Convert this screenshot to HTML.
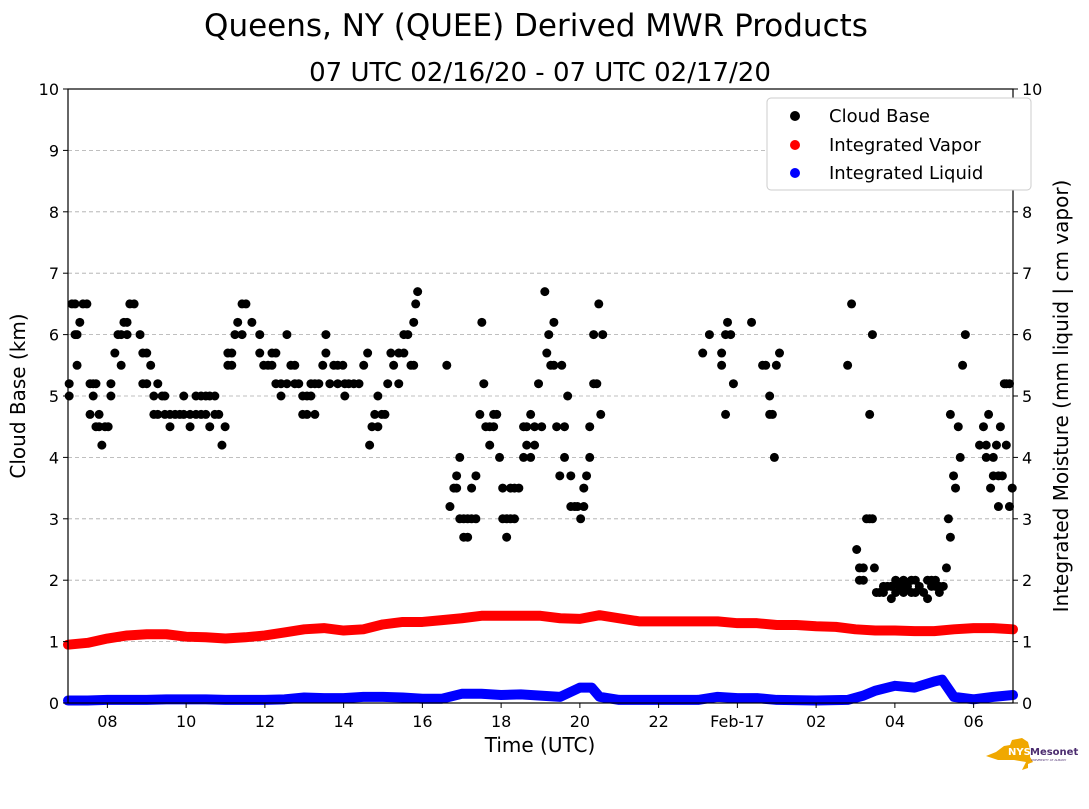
<!DOCTYPE html>
<html><head><meta charset="utf-8"><style>
body{margin:0;background:#fff;font-family:"Liberation Sans","DejaVu Sans",sans-serif;}
svg text{font-family:"DejaVu Sans","Liberation Sans",sans-serif;}
</style></head><body>
<svg id="chart" width="1089" height="804" xmlns="http://www.w3.org/2000/svg">
<text x="536" y="36" font-size="31" text-anchor="middle">Queens, NY (QUEE) Derived MWR Products</text>
<text x="540" y="81" font-size="26" text-anchor="middle">07 UTC 02/16/20 - 07 UTC 02/17/20</text>
<g id="grid"></g><g id="series"></g><g id="axes"></g>
<text transform="translate(25,396) rotate(-90)" font-size="20" text-anchor="middle">Cloud Base (km)</text>
<text transform="translate(1068,396) rotate(-90)" font-size="20" text-anchor="middle">Integrated Moisture (mm liquid | cm vapor)</text>
<text x="540" y="752" font-size="20" text-anchor="middle">Time (UTC)</text>
<g>
<rect x="767" y="98" width="264" height="92" rx="4" fill="#fff" stroke="#ccc"/>
<circle cx="795" cy="116" r="5" fill="#000"/><text x="829" y="122" font-size="18">Cloud Base</text>
<circle cx="795" cy="145" r="5" fill="red"/><text x="829" y="151" font-size="18">Integrated Vapor</text>
<circle cx="795" cy="173" r="5" fill="blue"/><text x="829" y="179" font-size="18">Integrated Liquid</text>
</g>
<g>
<path d="M986 756 L996 752 L1004 746 L1010 745 L1012 740 L1022 738 L1028 742 L1030 750 L1030 757 L1033 762 L1028 764 L1028 768 L1022 770 L1026 762 L1014 760 L998 760 Z" fill="#f0a800"/>
<text x="1008" y="755" font-size="10" fill="#fff" font-weight="bold">NYS</text>
<text x="1030" y="755" font-size="10" fill="#4b2c6f" font-weight="bold">Mesonet</text>
<text x="1031" y="761" font-size="3" fill="#4b2c6f">UNIVERSITY AT ALBANY</text>
</g>
</svg>
<script>
const cloudHours=[0.03,0.03,0.1,0.18,0.18,0.23,0.23,0.3,0.38,0.48,0.56,0.56,0.64,0.64,0.71,0.71,0.79,0.79,0.86,0.94,1.02,
1.09,1.09,1.19,1.27,1.35,1.35,1.42,1.5,1.5,1.57,1.68,1.83,1.9,1.9,2.0,2.0,
2.1,2.18,2.18,2.28,2.28,2.39,2.46,2.46,2.59,2.59,2.72,2.84,2.94,2.94,
3.1,3.1,3.25,3.25,3.38,3.38,3.5,3.5,3.6,3.6,3.73,3.73,3.83,3.91,3.99,
4.06,4.06,4.16,4.16,4.24,4.31,4.42,4.42,4.52,4.67,4.87,4.87,4.97,
5.08,5.18,5.18,5.28,5.28,5.41,5.41,5.56,5.56,5.66,5.76,5.76,5.86,5.96,5.96,
6.07,6.07,6.17,6.17,6.27,6.27,6.37,6.47,6.55,6.55,6.65,6.75,6.85,6.85,6.98,
7.03,7.03,7.13,7.26,7.39,7.51,7.61,7.66,7.72,7.79,7.87,7.87,7.97,
8.05,8.12,8.2,8.27,8.4,8.4,8.53,8.53,8.63,8.71,8.78,8.78,8.83,8.88,
9.62,9.7,9.8,9.87,9.87,9.95,9.95,10.05,10.05,10.15,10.15,10.25,10.25,10.36,10.36,10.46,10.51,10.56,10.61,10.71,10.71,10.81,10.81,10.89,10.96,11.04,11.04,11.14,11.14,11.24,11.24,11.34,11.34,11.45,
11.57,11.57,11.65,11.65,11.75,11.75,11.85,11.85,11.95,12.03,12.11,12.16,12.21,12.26,12.34,12.34,12.41,12.49,12.54,12.61,12.61,12.69,12.77,12.77,12.87,12.94,13.02,13.1,13.1,13.17,13.25,13.25,13.35,13.35,13.43,13.48,13.53,13.58,
16.12,16.29,16.6,16.6,16.7,16.7,16.75,16.83,16.9,17.36,17.64,17.72,17.82,17.82,17.89,17.94,17.99,18.07,
19.8,19.9,20.03,20.1,20.1,20.2,20.2,20.28,20.36,20.36,20.43,20.43,20.48,20.53,20.61,20.71,20.71,20.81,20.91,20.91,21.02,21.02,21.12,
21.22,21.22,21.32,21.42,21.42,21.52,21.52,21.62,21.73,21.83,21.83,21.93,21.93,22.03,22.03,22.13,22.13,22.23,22.31,22.36,22.41,22.41,22.49,22.54,22.61,22.66,22.72,22.79,
23.15,23.25,23.32,23.32,23.38,23.43,23.5,23.5,23.58,23.63,23.63,23.68,23.73,23.78,23.83,23.83,23.91,23.91,23.98];
const cloudKm=[5.2,5.0,6.5,6.0,6.5,6.0,5.5,6.2,6.5,6.5,5.2,4.7,5.0,5.2,4.5,5.2,4.7,4.5,4.2,4.5,4.5,
5.0,5.2,5.7,6.0,5.5,6.0,6.2,6.2,6.0,6.5,6.5,6.0,5.7,5.2,5.2,5.7,
5.5,5.0,4.7,5.2,4.7,5.0,4.7,5.0,4.5,4.7,4.7,4.7,5.0,4.7,
4.5,4.7,5.0,4.7,5.0,4.7,4.7,5.0,4.5,5.0,5.0,4.7,4.7,4.2,4.5,
5.7,5.5,5.7,5.5,6.0,6.2,6.5,6.0,6.5,6.2,6.0,5.7,5.5,
5.5,5.7,5.5,5.2,5.7,5.2,5.0,6.0,5.2,5.5,5.5,5.2,5.2,5.0,4.7,
4.7,5.0,5.2,5.0,4.7,5.2,5.2,5.5,6.0,5.7,5.2,5.5,5.5,5.2,5.5,
5.0,5.2,5.2,5.2,5.2,5.5,5.7,4.2,4.5,4.7,5.0,4.5,4.7,
4.7,5.2,5.7,5.5,5.7,5.2,6.0,5.7,6.0,5.5,6.2,5.5,6.5,6.7,
5.5,3.2,3.5,3.7,3.5,4.0,3.0,3.0,2.7,3.0,2.7,3.5,3.0,3.0,3.7,4.7,6.2,5.2,4.5,4.5,4.2,4.7,4.5,4.7,4.0,3.5,3.0,2.7,3.0,3.5,3.0,3.0,3.5,3.5,
4.0,4.5,4.5,4.2,4.7,4.0,4.2,4.5,5.2,4.5,6.7,5.7,6.0,5.5,6.2,5.5,4.5,3.7,5.5,4.5,4.0,5.0,3.7,3.2,3.2,3.2,3.0,3.2,3.5,3.7,4.0,4.5,5.2,6.0,5.2,6.5,4.7,6.0,
5.7,6.0,5.7,5.5,6.0,4.7,6.2,6.0,5.2,6.2,5.5,5.5,5.0,4.7,4.7,4.0,5.5,5.7,
5.5,6.5,2.5,2.2,2.0,2.2,2.0,3.0,3.0,4.7,6.0,3.0,2.2,1.8,1.8,1.9,1.8,1.9,1.9,1.7,2.0,1.8,1.9,
2.0,1.8,1.9,2.0,1.8,2.0,1.8,1.9,1.8,2.0,1.7,2.0,1.9,1.9,2.0,1.8,1.9,1.9,2.2,3.0,2.7,4.7,3.7,3.5,4.5,4.0,5.5,6.0,
4.2,4.5,4.2,4.0,4.7,3.5,3.7,4.0,4.2,3.7,3.2,4.5,3.7,5.2,4.2,5.2,3.2,5.2,3.5];
const vaporHours=[0,0.5,1,1.5,2,2.5,3,3.5,4,4.5,5,5.5,6,6.5,7,7.5,8,8.5,9,9.5,10,10.5,11,11.5,12,12.5,13,13.5,14,14.5,15,15.5,16,16.5,17,17.5,18,18.5,19,19.5,20,20.5,21,21.5,22,22.5,23,23.5,24];
const vaporVals=[0.95,0.98,1.05,1.1,1.12,1.12,1.08,1.07,1.05,1.07,1.1,1.15,1.2,1.22,1.18,1.2,1.28,1.32,1.32,1.35,1.38,1.42,1.42,1.42,1.42,1.38,1.37,1.43,1.38,1.33,1.33,1.33,1.33,1.33,1.3,1.3,1.27,1.27,1.25,1.24,1.2,1.18,1.18,1.17,1.17,1.2,1.22,1.22,1.2];
const liquidHours=[0,0.5,1,1.5,2,2.5,3,3.5,4,4.5,5,5.5,6,6.5,7,7.5,8,8.5,9,9.5,10,10.5,11,11.5,12,12.5,13,13.3,13.5,14,15,16,16.5,17,17.5,18,19,19.8,20.2,20.5,21,21.5,22,22.2,22.5,23,23.5,24];
const liquidVals=[0.04,0.04,0.05,0.05,0.05,0.06,0.06,0.06,0.05,0.05,0.05,0.06,0.09,0.08,0.08,0.1,0.1,0.09,0.07,0.07,0.15,0.15,0.13,0.14,0.12,0.1,0.25,0.25,0.1,0.05,0.05,0.05,0.1,0.08,0.08,0.05,0.04,0.05,0.12,0.2,0.28,0.25,0.35,0.38,0.1,0.06,0.1,0.13];
const xTickHours=[1,3,5,7,9,11,13,15,17,19,21,23];
const xTickLabels=["08","10","12","14","16","18","20","22","Feb-17","02","04","06"];
const yTicks=[0,1,2,3,4,5,6,7,8,9,10];

const NS="http://www.w3.org/2000/svg";
const X0=68,X1=1013,Y0=703,Y1=89;
function xs(h){return X0+h/24*(X1-X0);}
function ys(v){return Y0-v/10*(Y0-Y1);}
function mk(tag,attrs,parent){const e=document.createElementNS(NS,tag);for(const k in attrs)e.setAttribute(k,attrs[k]);parent.appendChild(e);return e;}
const grid=document.getElementById('grid'),ser=document.getElementById('series'),ax=document.getElementById('axes');
yTicks.forEach(v=>{
  if(v>0&&v<10){const l=mk('line',{x1:X0,x2:X1,y1:ys(v),y2:ys(v),stroke:'#aaa','stroke-dasharray':'4,3','stroke-width':0.8},grid);
  
  }
  const t=mk('text',{x:X0-9,y:ys(v)+6,'font-size':16,'text-anchor':'end'},ax);t.textContent=v;
  
  
  const t2=mk('text',{x:X1+9,y:ys(v)+6,'font-size':16},ax);t2.textContent=v;
  
  
  mk('line',{x1:X0-5,x2:X0,y1:ys(v),y2:ys(v),stroke:'#000'},ax);
  mk('line',{x1:X1,x2:X1+5,y1:ys(v),y2:ys(v),stroke:'#000'},ax);
});
xTickHours.forEach((h,i)=>{
  mk('line',{x1:xs(h),x2:xs(h),y1:Y0,y2:Y0+5,stroke:'#000'},ax);
  const t=mk('text',{x:xs(h),y:Y0+24,'font-size':16,'text-anchor':'middle'},ax);t.textContent=xTickLabels[i];
  
  
});
function line(hs,vs,color,name){
  const p=mk('polyline',{points:hs.map((h,i)=>xs(h)+','+ys(vs[i])).join(' '),fill:'none',stroke:color,'stroke-width':10,'stroke-linejoin':'round','stroke-linecap':'round'},ser);
  
  
}
line(vaporHours,vaporVals,'red','integrated-vapor-line');
line(liquidHours,liquidVals,'blue','integrated-liquid-line');
cloudHours.forEach((h,i)=>{
  const c=mk('circle',{cx:xs(h),cy:ys(cloudKm[i]),r:4.5,fill:'#000'},ser);
  
  
});
const fr=mk('rect',{x:X0,y:Y1,width:X1-X0,height:Y0-Y1,fill:'none',stroke:'#000','stroke-width':1.2},ax);


</script>
</body></html>
